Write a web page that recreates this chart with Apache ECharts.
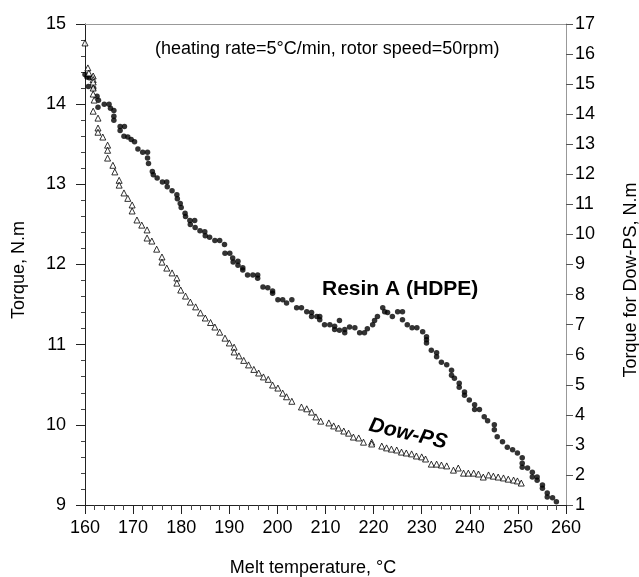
<!DOCTYPE html>
<html>
<head>
<meta charset="utf-8">
<script src="https://cdn.jsdelivr.net/npm/echarts@6/dist/echarts.min.js"></script>
<style>html,body{margin:0;padding:0;background:#fff;}#c{width:639px;height:577px;}</style>
</head>
<body>
<div id="c"></div>
<script>
// Resin A (HDPE): [melt temperature °C, torque N.m] (left axis)
const hdpeTemp = [160.0,160.4,160.9,161.6,160.7,161.8,162.5,162.8,162.7,164.0,165.0,165.3,166.0,166.0,166.0,167.3,168.2,167.3,168.1,168.9,169.6,170.3,171.0,172.0,173.0,173.0,173.2,174.0,174.2,175.0,176.1,177.0,177.1,178.1,179.1,179.2,179.8,180.0,180.8,180.9,181.8,182.8,181.9,182.9,183.9,184.9,185.0,185.9,187.0,188.0,189.0,189.1,190.1,190.7,190.8,191.8,191.8,192.8,192.8,193.8,194.9,195.9,195.9,197.0,198.0,199.0,199.0,200.1,201.1,201.9,203.0,204.0,205.0,206.1,207.1,207.1,208.2,208.8,208.8,209.8,210.9,211.9,211.9,212.9,212.9,214.0,214.0,215.0,216.1,217.1,218.1,218.7,219.8,220.2,220.8,221.9,222.3,222.9,223.9,225.0,226.0,226.0,227.0,228.0,229.0,230.2,231.0,231.0,231.0,232.0,233.1,233.1,234.1,235.2,236.2,236.2,236.8,237.8,237.8,238.9,238.9,239.9,241.0,241.0,242.0,243.0,243.7,245.1,245.1,245.7,246.8,247.8,248.9,249.9,250.9,250.9,250.9,252.0,253.0,253.0,254.0,254.0,255.1,255.1,256.1,256.1,257.2,258.0];
const hdpeTorque = [14.37,14.34,14.33,14.33,14.22,14.20,14.10,14.05,13.96,14.00,14.00,13.95,13.92,13.85,13.80,13.72,13.72,13.67,13.60,13.59,13.56,13.53,13.44,13.40,13.40,13.33,13.26,13.16,13.12,13.08,13.03,13.03,12.97,12.92,12.87,12.82,12.76,12.71,12.64,12.60,12.55,12.55,12.50,12.46,12.42,12.41,12.36,12.34,12.30,12.30,12.25,12.14,12.14,12.08,12.03,12.04,11.99,11.96,11.93,11.87,11.87,11.87,11.83,11.72,11.71,11.67,11.64,11.56,11.56,11.52,11.56,11.46,11.46,11.41,11.40,11.35,11.35,11.35,11.31,11.25,11.25,11.23,11.19,11.30,11.18,11.19,11.15,11.22,11.21,11.15,11.15,11.20,11.25,11.30,11.35,11.46,11.41,11.40,11.35,11.41,11.41,11.31,11.25,11.21,11.21,11.16,11.10,11.06,11.02,10.93,10.90,10.85,10.78,10.75,10.68,10.62,10.58,10.52,10.47,10.41,10.37,10.31,10.25,10.19,10.19,10.10,10.05,10.00,9.94,9.85,9.79,9.72,9.69,9.65,9.59,9.52,9.47,9.46,9.41,9.35,9.35,9.31,9.25,9.21,9.15,9.10,9.09,9.04];

// Dow-PS: [melt temperature °C, torque N.m] (right axis)
const psTemp = [160.0,159.8,159.8,160.6,160.8,161.7,161.7,161.7,161.7,161.7,161.9,161.7,162.7,162.7,162.7,163.7,164.7,164.7,164.7,165.8,166.2,167.1,167.1,168.1,168.9,169.8,169.8,170.8,171.8,172.9,172.9,173.9,174.9,176.0,176.0,177.0,178.1,179.1,179.1,179.9,180.9,181.9,183.0,184.0,185.0,186.1,187.0,188.0,189.1,190.0,191.0,191.0,192.0,193.0,194.0,195.1,196.1,197.1,198.1,199.0,200.1,201.1,201.9,203.0,205.0,206.1,207.1,208.0,209.0,210.7,211.7,212.7,213.8,214.8,215.8,216.9,217.9,219.6,219.6,221.7,222.7,223.7,224.8,225.8,226.8,227.9,228.9,230.0,230.8,232.0,233.1,234.1,235.2,236.6,237.6,238.7,239.7,240.8,241.8,242.8,243.9,244.9,245.9,247.0,248.0,249.1,249.9,250.7];
const psTorque = [16.37,15.90,15.80,15.54,15.37,15.27,15.15,15.07,14.87,14.67,14.47,14.10,13.87,13.54,13.40,13.24,12.97,12.80,12.54,12.30,12.08,11.80,11.64,11.38,11.20,10.98,10.78,10.48,10.31,10.15,9.88,9.78,9.51,9.25,9.08,8.88,8.72,8.55,8.38,8.15,7.95,7.75,7.59,7.39,7.22,7.07,6.92,6.75,6.55,6.39,6.25,6.09,5.96,5.81,5.66,5.51,5.39,5.26,5.18,4.99,4.89,4.72,4.60,4.45,4.26,4.20,4.09,3.93,3.79,3.73,3.63,3.56,3.46,3.39,3.26,3.23,3.09,3.09,3.03,2.96,2.90,2.86,2.83,2.76,2.73,2.70,2.63,2.60,2.53,2.36,2.36,2.33,2.30,2.16,2.23,2.06,2.06,2.06,2.03,1.93,2.00,1.96,1.93,1.90,1.86,1.83,1.80,1.73];

const xTicks = {min:160, max:260, interval:10};
const leftTicks = {min:9, max:15, interval:1};
const rightTicks = {min:1, max:17, interval:1};

const FONT = '"Liberation Sans", Arial, sans-serif';
const hdpeData = hdpeTemp.map((t,i)=>[t, hdpeTorque[i]]);
const psData = psTemp.map((t,i)=>[t, psTorque[i]]);

const chart = echarts.init(document.getElementById('c'), null, {renderer:'canvas'});
const labelStyle = {color:'#000', fontSize:18, fontFamily:FONT};
chart.setOption({
  animation:false,
  backgroundColor:'#fff',
  grid:{left:85, right:73, top:24, bottom:72, containLabel:false},
  xAxis:[{
    type:'value', min:xTicks.min, max:xTicks.max, interval:xTicks.interval,
    axisLine:{show:true, onZero:false, lineStyle:{color:'#222', width:1}},
    axisTick:{show:true, inside:false, length:9, lineStyle:{color:'#222'}},
    minorTick:{show:true, splitNumber:5, length:5, lineStyle:{color:'#444'}},
    splitLine:{show:false},
    axisLabel:Object.assign({margin:14}, labelStyle)
  },{
    type:'value', position:'top', min:xTicks.min, max:xTicks.max,
    axisLine:{show:true, onZero:false, lineStyle:{color:'#999', width:1}},
    axisTick:{show:false}, axisLabel:{show:false}, splitLine:{show:false}
  }],
  yAxis:[{
    type:'value', position:'left', min:leftTicks.min, max:leftTicks.max, interval:leftTicks.interval,
    axisLine:{show:true, onZero:false, lineStyle:{color:'#222', width:1}},
    axisTick:{show:true, inside:false, length:9, lineStyle:{color:'#222'}},
    minorTick:{show:true, splitNumber:5, length:4, lineStyle:{color:'#444'}},
    splitLine:{show:false},
    axisLabel:Object.assign({margin:19}, labelStyle)
  },{
    type:'value', position:'right', min:rightTicks.min, max:rightTicks.max, interval:rightTicks.interval,
    axisLine:{show:true, onZero:false, lineStyle:{color:'#999', width:1}},
    axisTick:{show:true, inside:false, length:7, lineStyle:{color:'#555'}},
    splitLine:{show:false},
    axisLabel:Object.assign({margin:9}, labelStyle)
  }],
  series:[{
    name:'Resin A (HDPE)', type:'scatter', xAxisIndex:0, yAxisIndex:0,
    data:hdpeData, symbol:'circle', symbolSize:5.5,
    itemStyle:{color:'#000'}
  },{
    name:'Dow-PS', type:'scatter', xAxisIndex:0, yAxisIndex:1,
    data:psData, symbol:'triangle', symbolSize:6,
    itemStyle:{color:'#fff', borderColor:'#000', borderWidth:1}
  }],
  graphic:[
    {type:'text', x:155, y:49, style:{text:'(heating rate=5°C/min, rotor speed=50rpm)', font:'18px '+FONT, fill:'#000', textAlign:'left', textVerticalAlign:'middle'}},
    {type:'text', x:322, y:289, style:{text:'Resin A (HDPE)', font:'bold 21px '+FONT, fill:'#000', textAlign:'left', textVerticalAlign:'middle'}},
    {type:'text', x:408, y:434, rotation:-0.23, style:{text:'Dow-PS', font:'italic bold 21px '+FONT, fill:'#000', textAlign:'center', textVerticalAlign:'middle'}},
    {type:'text', x:19, y:270, rotation:Math.PI/2, style:{text:'Torque, N.m', font:'18px '+FONT, fill:'#000', textAlign:'center', textVerticalAlign:'middle'}},
    {type:'text', x:631, y:280, rotation:Math.PI/2, style:{text:'Torque for Dow-PS, N.m', font:'18px '+FONT, fill:'#000', textAlign:'center', textVerticalAlign:'middle'}},
    {type:'text', x:313, y:568, style:{text:'Melt temperature, °C', font:'18px '+FONT, fill:'#000', textAlign:'center', textVerticalAlign:'middle'}}
  ]
});
</script>
</body>
</html>
